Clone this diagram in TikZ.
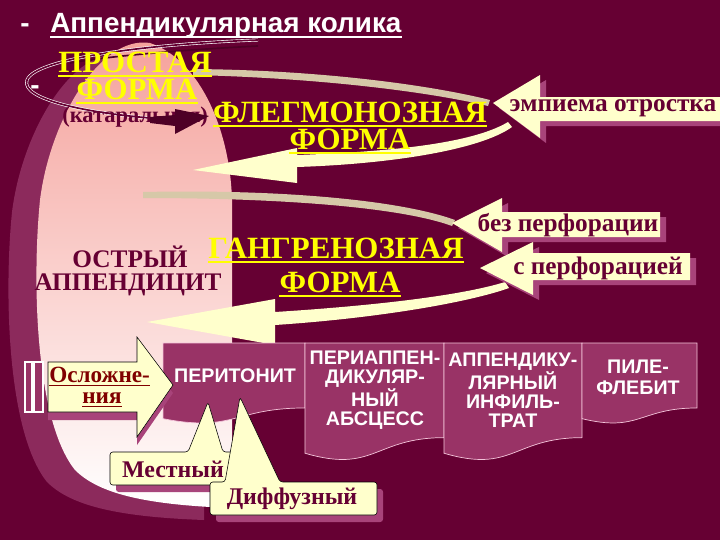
\documentclass[tikz,border=0pt]{standalone}
\usepackage{fontspec}
\setmainfont{Liberation Serif}
\setsansfont{Liberation Sans}
\usetikzlibrary{positioning}

\definecolor{slidebg}{HTML}{660033}
\definecolor{slidemag}{HTML}{993366}
\definecolor{shademag}{HTML}{8C2A5C}
\definecolor{boxedge}{HTML}{F4C4DA}
\definecolor{calloutfill}{HTML}{FFFFCC}
\definecolor{calloutshadow}{HTML}{A8437A}
\definecolor{backface}{HTML}{D6C8A8}
\definecolor{darkarrow}{HTML}{4E0026}
\definecolor{yelltext}{HTML}{FFFF00}
\definecolor{darktext}{HTML}{660033}
\definecolor{redtext}{HTML}{800000}
\definecolor{pinktop}{HTML}{F5A19B}
\definecolor{pinkmid}{HTML}{F8CFCF}

\tikzset{
  yellform/.style={text=yelltext, font=\bfseries\fontsize{22}{23}\selectfont, inner sep=0pt, anchor=base},
  darkform/.style={text=darktext, font=\bfseries\fontsize{18}{19}\selectfont, inner sep=0pt},
  boxtxt/.style={text=white, font=\sffamily\bfseries\fontsize{14}{13.5}\selectfont, align=center, inner sep=0pt},
  slidetitle/.style={text=white, font=\sffamily\bfseries\fontsize{19.8}{21}\selectfont, inner sep=0pt, anchor=base west},
  callout/.style={fill=calloutfill, draw=black, line width=0.4pt, rounded corners=2pt},
  uline/.style={line width=1.3pt},
}

\begin{document}
\begin{tikzpicture}[x=0.025cm, y=-0.025cm]
  \useasboundingbox (0,0) rectangle (720,540);
  \clip (0,0) rectangle (720,540);
  \fill[slidebg] (0,0) rectangle (720,540);

  % appendix shape with its shadow
  \fill[shademag, shift={(-28,12)}] (232,508) -- (232,200) .. controls (230,130) and (200,60) .. (150,43)
    .. controls (100,35) and (50,120) .. (40,200) .. controls (32,280) and (35,420) .. (75,470)
    .. controls (100,495) and (150,505) .. (232,508) -- cycle;
  \shade[top color=pinktop, middle color=pinkmid, bottom color=white] (232,508) -- (232,200)
    .. controls (230,130) and (200,60) .. (150,43)
    .. controls (100,35) and (50,120) .. (40,200) .. controls (32,280) and (35,420) .. (75,470)
    .. controls (100,495) and (150,505) .. (232,508) -- cycle;

  \node[slidetitle] (dash1) at (20,32) {-};
  \node[slidetitle] (title) at (50,32) {Аппендикулярная колика};
  \draw[white, line width=1pt] ([yshift=-3.5pt]title.base west) -- ([yshift=-3.5pt]title.base east);
  \node[slidetitle] (dash2) at (30,94) {-};

  % loop from the simple form
  \draw[line width=1.2pt, darkarrow] (258,46) .. controls (180,50) and (110,56) .. (70,63);
  \draw[white, double=slidebg, double distance=1.2pt, line width=0.45pt] (258,40)
    .. controls (150,44) and (35,58) .. (27,80) .. controls (20,100) and (90,113) .. (150,118);
  \fill[backface] (193,69) .. controls (320,70) and (430,85) .. (490,100) -- (488,106)
    .. controls (430,92) and (320,78) .. (193,75) -- cycle;
  \fill[calloutfill] (508,122) .. controls (470,145) and (380,152) .. (297,155) -- (297,148) -- (193,170)
    -- (297,183) -- (297,167) .. controls (390,164) and (480,150) .. (512,127) -- cycle;

  % loop round the gangrenous form
  \fill[backface] (143,192) .. controls (280,189) and (400,200) .. (455,220) -- (452,226)
    .. controls (400,207) and (280,198) .. (143,198) -- cycle;
  \fill[calloutfill] (505,282) .. controls (460,296) and (370,306) .. (275,312) -- (275,299) -- (147,322)
    -- (275,345) -- (275,325) .. controls (380,318) and (470,302) .. (509,288) -- cycle;

  \node[yellform] (prostaya) at (135,72) {ПРОСТАЯ};
  \node[yellform] (prostaya2) at (137,99) {ФОРМА};
  \node[darkform, font=\bfseries\fontsize{16}{17}\selectfont, anchor=base west] (katar) at (62,122) {(катаральная)};
  \fill[darkarrow] (150,117) -- (175,115) -- (175,109) -- (209,116) -- (175,134) -- (175,126) -- (150,123) -- cycle;
  \node[yellform] (flegmona) at (350,122) {ФЛЕГМОНОЗНАЯ};
  \node[yellform] (flegmona2) at (350,149) {ФОРМА};

  \node[darkform, anchor=base] (ostryj) at (130,267) {ОСТРЫЙ};
  \node[darkform, anchor=base] (appendicit) at (128,290) {АППЕНДИЦИТ};
  \node[yellform] (gangrena) at (336,258) {ГАНГРЕНОЗНАЯ};
  \node[yellform] (gangrena2) at (340,292) {ФОРМА};

  \foreach \n in {prostaya, prostaya2, flegmona, flegmona2, gangrena, gangrena2}
    \draw[uline, yelltext] ([yshift=-3pt]\n.base west) -- ([yshift=-3pt]\n.base east);

  % arrows with labels
  \foreach \tx/\ty/\bx/\hu/\hd/\bu/\bd/\ex in {493/103/540/75/138/97/121/725,
      452/223/502/198/252/212/237/660, 480/268/533/242/295/253/280/690}{
    \begin{scope}[shift={(6,5)}]
      \fill[calloutshadow] (\tx,\ty) -- (\bx,\hu) -- (\bx,\bu) -- (\ex,\bu) -- (\ex,\bd) -- (\bx,\bd) -- (\bx,\hd) -- cycle;
    \end{scope}
    \fill[calloutfill] (\tx,\ty) -- (\bx,\hu) -- (\bx,\bu) -- (\ex,\bu) -- (\ex,\bd) -- (\bx,\bd) -- (\bx,\hd) -- cycle;
  }
  \node[darkform] (empiema) at (613,108) {эмпиема отростка};
  \node[darkform] (bezperf) at (568,225) {без перфорации};
  \node[darkform] (sperf) at (598,268) {с перфорацией};

  % complication boxes
  \foreach \bl/\br/\bh in {163/305/81, 305/444/118, 444/582/118, 582/697/81}{
    \filldraw[fill=slidemag, draw=boxedge, line width=0.5pt] (\bl,343) -- (\br,343) -- (\br,343+0.802*\bh)
      .. controls ({(\bl+\br)/2},343+0.802*\bh) and ({(\bl+\br)/2},343+1.107*\bh) .. (\bl,343+0.934*\bh) -- cycle;
  }
  \node[boxtxt] (peritonit) at (235,376) {ПЕРИТОНИТ};
  \node[boxtxt] (abscess) at (375,390) {ПЕРИАППЕН-\\ДИКУЛЯР-\\НЫЙ\\АБСЦЕСС};
  \node[boxtxt] (infiltrat) at (513,390) {АППЕНДИКУ-\\ЛЯРНЫЙ\\ИНФИЛЬ-\\ТРАТ};
  \node[boxtxt, font=\sffamily\bfseries\fontsize{14}{15}\selectfont] (pileflebit) at (638,377) {ПИЛЕ-\\ФЛЕБИТ};

  \fill[calloutshadow] (48,370) -- (137,370) -- (137,345) -- (173,393) -- (137,445) -- (137,420) -- (48,420) -- cycle;
  \filldraw[fill=calloutfill, draw=black, line width=0.4pt] (48,362) -- (137,362) -- (137,337) -- (173,385)
    -- (137,437) -- (137,412) -- (48,412) -- cycle;
  \draw[white, fill=slidemag, line width=0.8pt] (25,362) rectangle (32,412);
  \draw[white, fill=slidemag, line width=0.8pt] (34,362) rectangle (43,412);
  \node[darkform, text=redtext, font=\bfseries\fontsize{16.5}{17}\selectfont, anchor=base west] (osl) at (49,382) {Осложне-};
  \node[darkform, text=redtext, font=\bfseries\fontsize{16.5}{17}\selectfont, anchor=base] (osl2) at (102,403) {ния};
  \foreach \n in {osl, osl2}
    \draw[uline, redtext] ([yshift=-2.5pt]\n.base west) -- ([yshift=-2.5pt]\n.base east);

  % local and diffuse callouts
  \fill[calloutshadow, rounded corners=2pt] (116,459) -- (239,459) -- (239,492) -- (116,492) -- cycle;
  \path[callout] (110,452) -- (188,452) -- (208,402) -- (223,452) -- (233,452) -- (233,485) -- (110,485) -- cycle;
  \node[darkform, font=\bfseries\fontsize{17}{18}\selectfont] (mestnyj) at (173,469) {Местный};
  \fill[calloutshadow, rounded corners=2pt] (216,489) -- (383,489) -- (383,522) -- (216,522) -- cycle;
  \path[callout] (210,482) -- (225,482) -- (240,397) -- (280,482) -- (377,482) -- (377,515) -- (210,515) -- cycle;
  \node[darkform, font=\bfseries\fontsize{17}{18}\selectfont] (diffuz) at (292,499) {Диффузный};
\end{tikzpicture}
\end{document}
